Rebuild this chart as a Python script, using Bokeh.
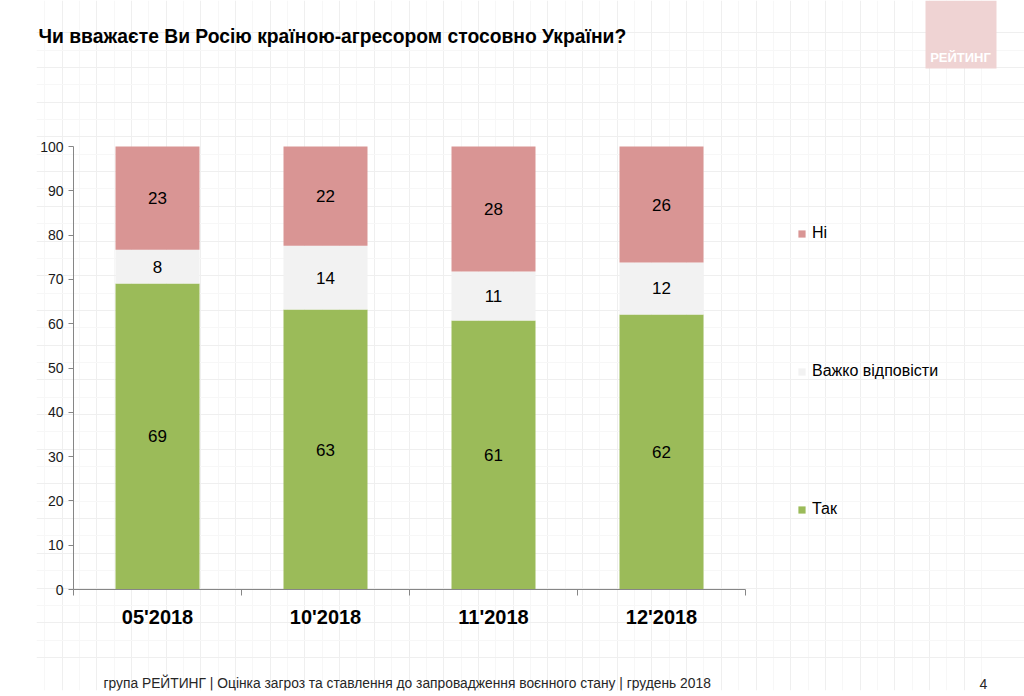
from bokeh.plotting import figure
from bokeh.models import (ColumnDataSource, Range1d, LinearAxis, FixedTicker, Legend,
                          LegendItem, Grid)
from bokeh.core.properties import value
from bokeh.embed import file_html
from bokeh.resources import INLINE

# ---- data ----
periods = ["05'2018", "10'2018", "11'2018", "12'2018"]
yes_vals = [69.1, 63.2, 60.7, 62.1]
hard_vals = [7.6, 14.4, 11.1, 11.7]
no_vals = [23.3, 22.4, 28.2, 26.2]
yes_labels = ["69", "63", "61", "62"]
hard_labels = ["8", "14", "11", "12"]
no_labels = ["23", "22", "28", "26"]
series_names = ["Так", "Важко відповісти", "Ні"]
series_colors = ["#9BBB59", "#F2F2F2", "#D99594"]
y_ticks = [0, 10, 20, 30, 40, 50, 60, 70, 80, 90, 100]

title_text = "Чи вважаєте Ви Росію країною-агресором стосовно України?"
footer_text = "група РЕЙТИНГ | Оцінка загроз та ставлення до запровадження воєнного стану | грудень 2018"
page_text = "4"
logo_text = "РЕЙТИНГ"

FONT = "Liberation Sans"

# ---- page geometry (pixels) ----
W, H = 1024, 696
LEFT_B, BOTTOM_B = 36, 6           # side panels: y axis / tick axis
FL, FR, FT, FB = LEFT_B, W, 0, H - BOTTOM_B   # frame edges on the page
AX_X0, AX_Y0, AX_Y100 = 73, 589, 146         # where x=0, y=0 and y=100 sit
CAT_W = 168                                   # pixels per category
ppy = (AX_Y0 - AX_Y100) / 100.0

n = len(periods)
xpos = [i + 0.5 for i in range(n)]

p = figure(width=W, height=H,
           x_range=Range1d(-(AX_X0 - FL) / CAT_W, (FR - AX_X0) / CAT_W),
           y_range=Range1d(-(FB - AX_Y0) / ppy, (AX_Y0 - FT) / ppy),
           output_backend="svg", toolbar_location=None,
           x_axis_location=None, y_axis_location=None,
           min_border_left=LEFT_B, min_border_right=0,
           min_border_top=0, min_border_bottom=BOTTOM_B)
p.extra_x_ranges = {"px": Range1d(FL, FR)}
p.extra_y_ranges = {"px": Range1d(FB, FT)}
p.xgrid.visible = False
p.ygrid.visible = False
p.outline_line_color = None
p.background_fill_color = "white"
p.border_fill_color = "white"

# faint graph-paper background
step = 34.7
gx = [26.8 + k * step for k in range(0, 28) if 26.8 + k * step <= 995]
gy = [32.3 + k * step for k in range(0, 19) if 32.3 + k * step <= 662]
gxm = [v + step / 2 for v in gx if v + step / 2 <= 995]
gym = [v + step / 2 for v in gy if v + step / 2 <= 662]
vgrid = Grid(dimension=0, x_range_name="px", y_range_name="px",
             ticker=FixedTicker(ticks=gx, minor_ticks=gxm), bounds=(0, 662),
             grid_line_color="#EFEFEF", minor_grid_line_color="#F7F7F7", level="underlay")
hgrid = Grid(dimension=1, x_range_name="px", y_range_name="px",
             ticker=FixedTicker(ticks=gy, minor_ticks=gym), bounds=(0, 995),
             grid_line_color="#EFEFEF", minor_grid_line_color="#F7F7F7", level="underlay")
p.add_layout(vgrid)
p.add_layout(hgrid)

# y axis
yax = LinearAxis(ticker=FixedTicker(ticks=y_ticks), fixed_location=0, bounds=(0, 100))
yax.axis_line_color = "#868686"
yax.major_tick_line_color = "#868686"
yax.major_tick_in = 0
yax.major_tick_out = 5
yax.minor_tick_line_color = None
yax.major_label_text_font = FONT
yax.major_label_text_font_size = "14px"
yax.major_label_text_color = "#1a1a1a"
yax.major_label_standoff = 5
p.add_layout(yax, "left")

# x axis: unlabeled ticks at category boundaries (drawn as minor ticks)
tax = LinearAxis(ticker=FixedTicker(ticks=[], minor_ticks=list(range(n + 1))),
                 fixed_location=0, bounds=(0, n))
tax.axis_line_color = "#868686"
tax.major_tick_line_color = None
tax.major_tick_in = 0
tax.major_tick_out = 6
tax.minor_tick_line_color = "#868686"
tax.minor_tick_in = 0
tax.minor_tick_out = 6
tax.major_label_standoff = 0
p.add_layout(tax, "below")

# category labels
cat_src = ColumnDataSource(dict(x=xpos, y=[616] * n, t=periods))
p.text(x="x", y="y", text="t", source=cat_src, y_range_name="px",
       text_align="center", text_baseline="middle", text_font=value(FONT),
       text_font_style="bold", text_font_size="20px", text_color="#000000")

# stacked bars
yes_c = [v / 2 for v in yes_vals]
hard_c = [y + h / 2 for y, h in zip(yes_vals, hard_vals)]
no_c = [y + h + m / 2 for y, h, m in zip(yes_vals, hard_vals, no_vals)]
src = ColumnDataSource(dict(x=xpos, period=periods, yes=yes_vals, hard=hard_vals, no=no_vals,
                            yes_c=yes_c, hard_c=hard_c, no_c=no_c,
                            yes_l=yes_labels, hard_l=hard_labels, no_l=no_labels))
rs = p.vbar_stack(["yes", "hard", "no"], x="x", width=0.5, color=series_colors,
                  line_color=None, source=src)

for col, lab in [("yes_c", "yes_l"), ("hard_c", "hard_l"), ("no_c", "no_l")]:
    p.text(x="x", y=col, text=lab, source=src, text_align="center",
           text_baseline="middle", text_font=value(FONT), text_font_size="17px",
           text_color="#000000")

# legend
items = [LegendItem(label=series_names[i], renderers=[rs[i]]) for i in [2, 1, 0]]
leg = Legend(items=items, location=(797 - FL, FB - 519), orientation="vertical")
leg.glyph_width = 9
leg.glyph_height = 9
leg.label_height = 20
leg.spacing = 118
leg.padding = 0
leg.margin = 0
leg.border_line_color = None
leg.background_fill_alpha = 0
leg.label_text_font = FONT
leg.label_text_font_size = "16px"
leg.label_text_color = "#000000"
leg.label_standoff = 6
p.add_layout(leg, "center")

# header: title and logo
p.text(x=[38], y=[36], text=[title_text], x_range_name="px", y_range_name="px",
       text_align="left", text_baseline="middle", text_font=value(FONT),
       text_font_style="bold", text_font_size="19.3px", text_color="#000000")
p.quad(left=[925], right=[996], top=[0], bottom=[68], x_range_name="px", y_range_name="px",
       fill_color="#EFD3D3", line_color=None)
p.text(x=[960], y=[57], text=[logo_text], x_range_name="px", y_range_name="px",
       text_align="center", text_baseline="middle", text_font=value(FONT),
       text_font_style="bold", text_font_size="13px", text_color="white")

# footer
p.text(x=[103], y=[683], text=[footer_text], x_range_name="px", y_range_name="px",
       text_align="left", text_baseline="middle", text_font=value(FONT),
       text_font_size="13.8px", text_color="#262626")
p.text(x=[979], y=[683], text=[page_text], x_range_name="px", y_range_name="px",
       text_align="left", text_baseline="middle", text_font=value(FONT),
       text_font_size="14px", text_color="#262626")

open("out.html", "w").write(file_html(p, INLINE))
